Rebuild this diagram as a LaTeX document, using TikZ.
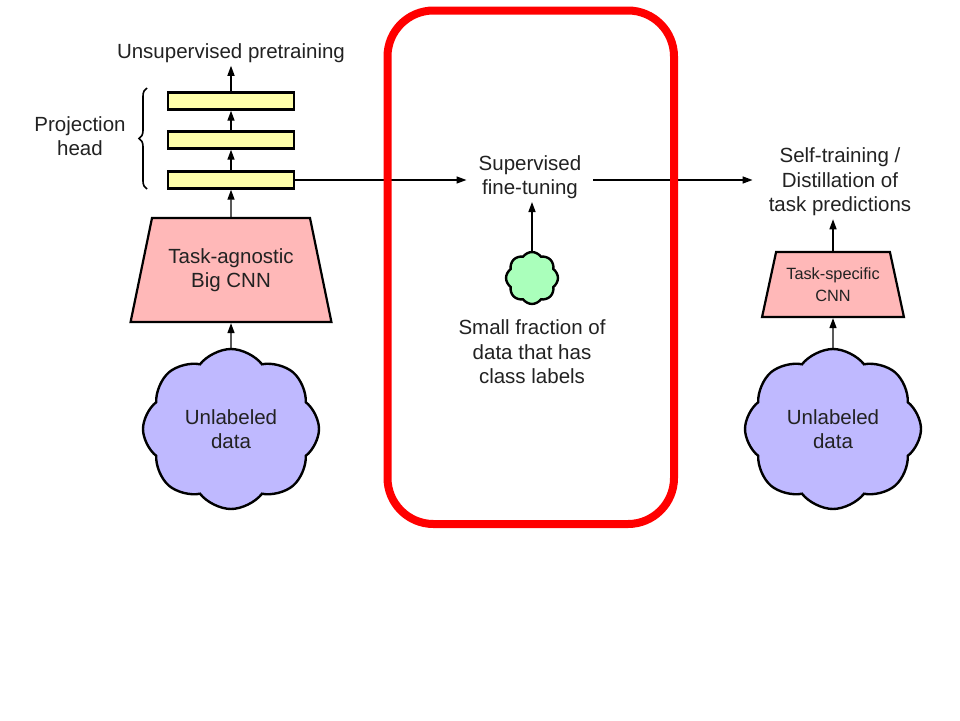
\documentclass[tikz,border=0pt]{standalone}
\usepackage{fontspec}
\setmainfont{Liberation Sans}
\usetikzlibrary{shapes.geometric,shapes.symbols,arrows.meta,decorations.pathreplacing}
\definecolor{boxyellow}{RGB}{255,255,170}
\definecolor{cnnpink}{RGB}{255,184,184}
\definecolor{cloudlav}{RGB}{191,185,255}
\definecolor{cloudgreen}{RGB}{170,255,187}
\definecolor{txt}{RGB}{34,34,34}
\begin{document}
\begin{tikzpicture}[x=1pt,y=-1pt,
  every node/.style={text=txt},
  lbl/.style={font=\fontsize{20.5}{24.5}\selectfont, align=center, inner sep=3pt},
  projbox/.style={draw=black, line width=2.4pt, fill=boxyellow, minimum width=126pt, minimum height=17pt, inner sep=0pt},
  cnn/.style={draw=black, line width=2.2pt, fill=cnnpink, trapezium, trapezium stretches=true, inner sep=0pt, align=center},
  datacloud/.style={draw=black, line width=2.4pt, cloud, cloud ignores aspect, inner sep=0pt, align=center},
  arr/.style={line width=1.4pt, -{Triangle[length=10pt,width=7pt]}},
  frame/.style={draw=red, line width=8pt, rounded corners=46pt}
]
\useasboundingbox (0,0) rectangle (960,720);
\fill[white] (0,0) rectangle (960,720);

% left column
\node[lbl] (title) at (231,53) {Unsupervised pretraining};
\node[projbox] (box1) at (231,101) {};
\node[projbox] (box2) at (231,140) {};
\node[projbox] (box3) at (231,180) {};
\node[lbl] (proj) at (80,136) {Projection\\head};
\coordinate (braceBot) at (147,189);
\coordinate (braceTop) at (147,88);
\draw[line width=1.6pt, decorate, decoration={brace, amplitude=8pt}] (braceBot) -- (braceTop);
\node[cnn, trapezium left angle=68.7, trapezium right angle=68.7, minimum width=201pt, minimum height=104pt,
  font=\fontsize{20.5}{24.5}\selectfont] (cnnL) at (231,270) {Task-agnostic\\Big CNN};
\node[datacloud, cloud puffs=8, cloud puff arc=105, minimum width=176pt, minimum height=160pt, fill=cloudlav,
  font=\fontsize{20.5}{24.5}\selectfont] (cloudL) at (231,429) {Unlabeled\\data};

\draw[arr] (box1.north) -- (title.south);
\draw[arr] (box2.north) -- (box1.south);
\draw[arr] (box3.north) -- (box2.south);
\draw[arr] (cnnL.north) -- (box3.south);
\draw[arr] (cloudL.north) -- (cnnL.south);

% middle
\node[lbl, inner xsep=12pt] (sup) at (530,177) {Supervised\\fine-tuning};
\node[datacloud, cloud puffs=8, cloud puff arc=110, minimum width=52pt, minimum height=52pt, fill=cloudgreen] (green) at (532,278) {};
\node[lbl] (small) at (532,352) {Small fraction of\\data that has\\class labels};
\draw[arr] (green.north) -- (sup.south -| green.north);

% right column
\node[lbl, inner xsep=16pt] (self) at (840,182) {Self-training /\\Distillation of\\task predictions};
\node[cnn, trapezium left angle=71.3, trapezium right angle=71.3, minimum width=142pt, minimum height=65pt,
  font=\fontsize{16.3}{22}\selectfont] (cnnR) at (833,284.5) {Task-specific\\CNN};
\node[datacloud, cloud puffs=8, cloud puff arc=105, minimum width=176pt, minimum height=160pt, fill=cloudlav,
  font=\fontsize{20.5}{24.5}\selectfont] (cloudR) at (833,429) {Unlabeled\\data};
\draw[arr] (cnnR.north) -- (self.south -| cnnR.north);
\draw[arr] (cloudR.north) -- (cnnR.south);

% horizontal flow
\draw[arr] (box3.east) -- (box3.east -| sup.west);
\draw[arr] (sup.east |- box3.east) -- (box3.east -| self.west);

% red frame
\coordinate (frameTL) at (387.5,10.5);
\coordinate (frameBR) at (674,524);
\draw[frame] (frameTL) rectangle (frameBR);
\end{tikzpicture}
\end{document}
